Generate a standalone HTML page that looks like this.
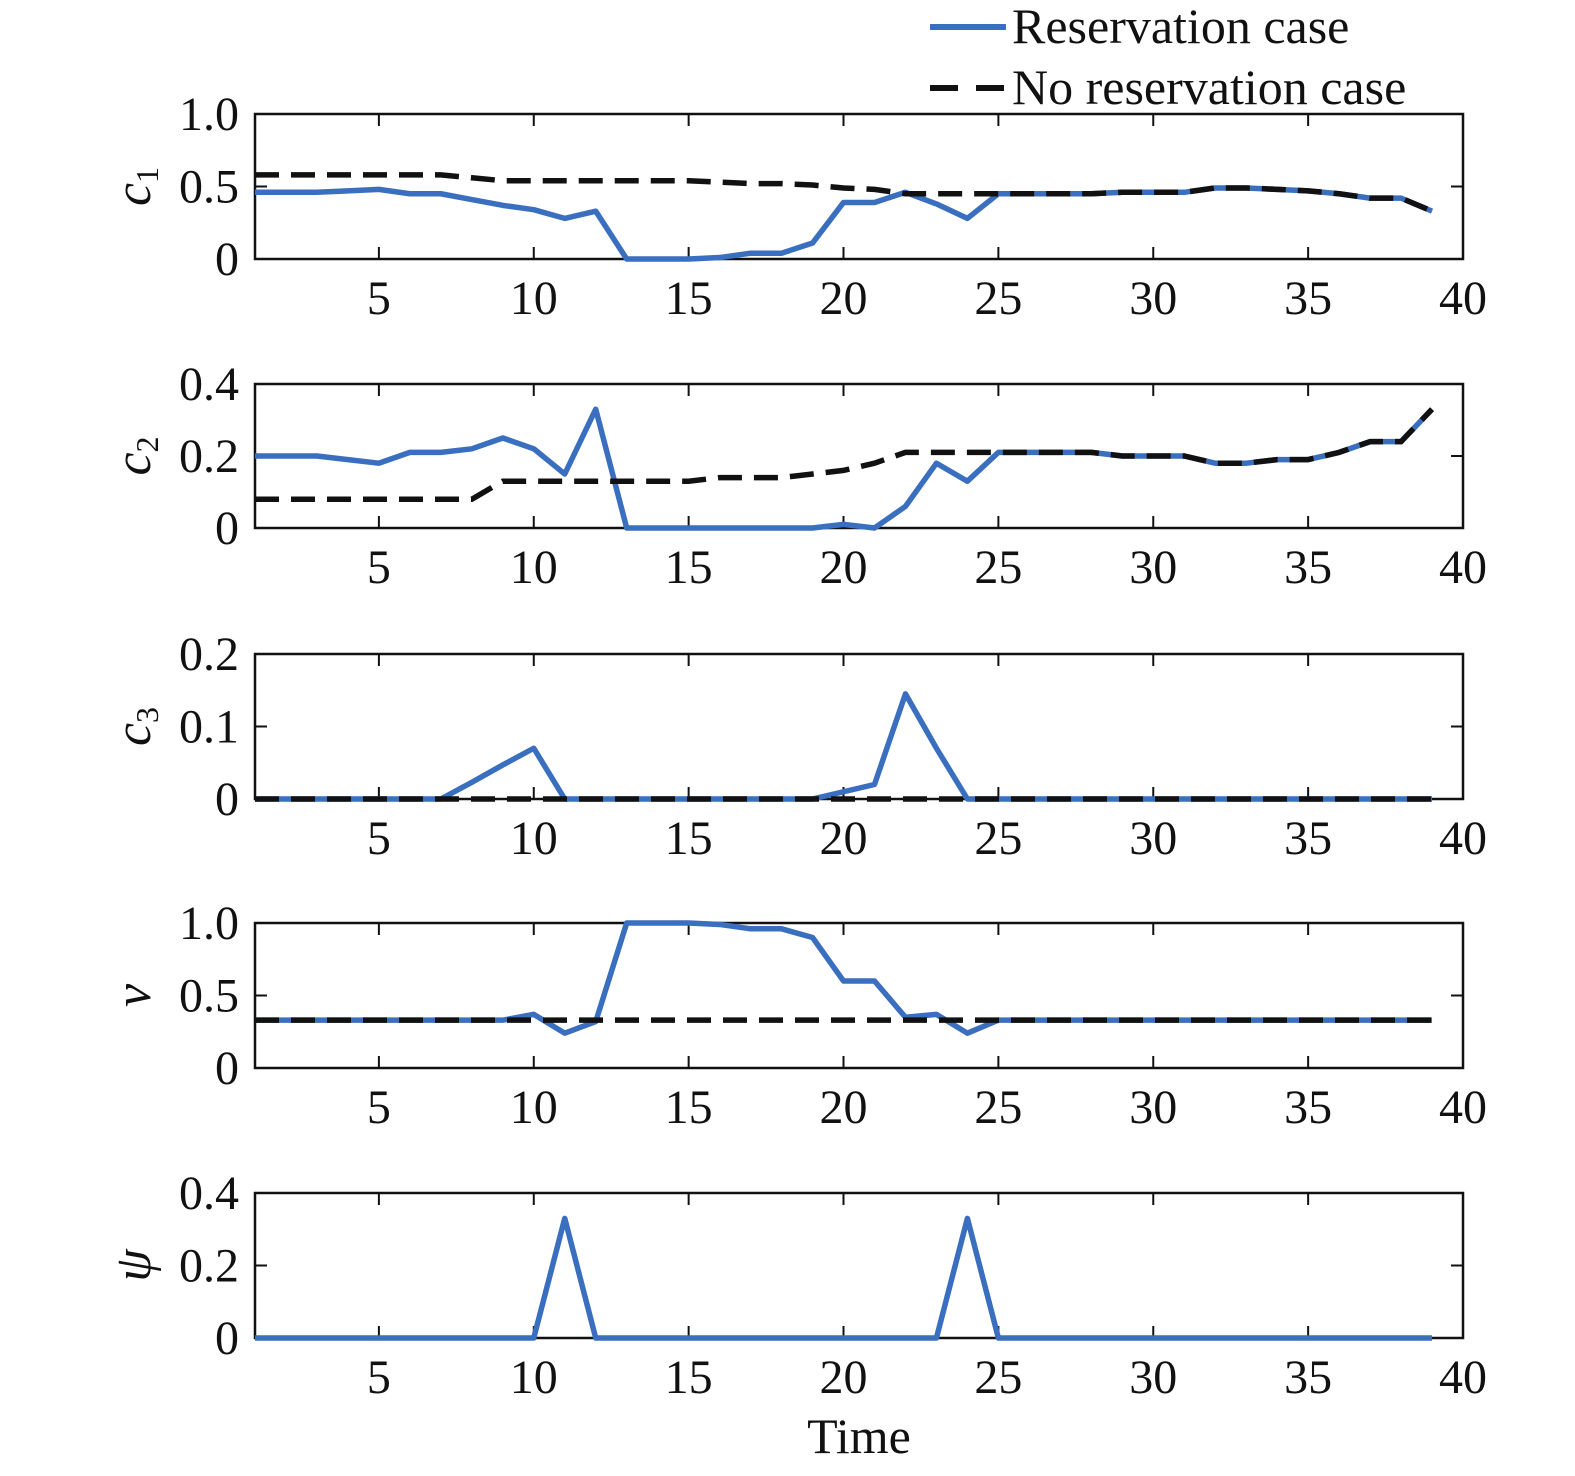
<!DOCTYPE html>
<html><head><meta charset="utf-8"><style>
body{margin:0;background:#fff}
svg{display:block}
text{font-family:"Liberation Serif",serif;fill:#111}
</style></head><body>
<svg id="chart" width="1575" height="1476" viewBox="0 0 1575 1476" xmlns="http://www.w3.org/2000/svg"></svg>
<script>
const timeSteps = Array.from({length:39},(_,i)=>i+1);
const xTicks = [5,10,15,20,25,30,35,40];
const c1Res = [0.46,0.46,0.46,0.47,0.48,0.45,0.45,0.41,0.37,0.34,0.28,0.33,0,0,0,0.01,0.04,0.04,0.11,0.39,0.39,0.46,0.38,0.28,0.45,0.45,0.45,0.45,0.46,0.46,0.46,0.49,0.49,0.48,0.47,0.45,0.42,0.42,0.33];
const c1NoRes = [0.58,0.58,0.58,0.58,0.58,0.58,0.58,0.56,0.54,0.54,0.54,0.54,0.54,0.54,0.54,0.53,0.52,0.52,0.51,0.49,0.48,0.45,0.45,0.45,0.45,0.45,0.45,0.45,0.46,0.46,0.46,0.49,0.49,0.48,0.47,0.45,0.42,0.42,0.33];
const c2Res = [0.2,0.2,0.2,0.19,0.18,0.21,0.21,0.22,0.25,0.22,0.15,0.33,0,0,0,0,0,0,0,0.01,0,0.06,0.18,0.13,0.21,0.21,0.21,0.21,0.2,0.2,0.2,0.18,0.18,0.19,0.19,0.21,0.24,0.24,0.33];
const c2NoRes = [0.08,0.08,0.08,0.08,0.08,0.08,0.08,0.08,0.13,0.13,0.13,0.13,0.13,0.13,0.13,0.14,0.14,0.14,0.15,0.16,0.18,0.21,0.21,0.21,0.21,0.21,0.21,0.21,0.2,0.2,0.2,0.18,0.18,0.19,0.19,0.21,0.24,0.24,0.33];
const c3Res = [0,0,0,0,0,0,0,0.023,0.047,0.07,0,0,0,0,0,0,0,0,0,0.01,0.02,0.145,0.07,0,0,0,0,0,0,0,0,0,0,0,0,0,0,0,0];
const c3NoRes = new Array(39).fill(0);
const vRes = [0.33,0.33,0.33,0.33,0.33,0.33,0.33,0.33,0.33,0.37,0.24,0.32,1,1,1,0.99,0.96,0.96,0.9,0.6,0.6,0.35,0.37,0.24,0.33,0.33,0.33,0.33,0.33,0.33,0.33,0.33,0.33,0.33,0.33,0.33,0.33,0.33,0.33];
const vNoRes = new Array(39).fill(0.33);
const psiRes = [0,0,0,0,0,0,0,0,0,0,0.33,0,0,0,0,0,0,0,0,0,0,0,0,0.33,0,0,0,0,0,0,0,0,0,0,0,0,0,0,0];
const yTicks1 = [0,0.5,1.0], yTickLabels1 = ["0","0.5","1.0"];
const yTicks2 = [0,0.2,0.4], yTickLabels2 = ["0","0.2","0.4"];
const yTicks3 = [0,0.1,0.2], yTickLabels3 = ["0","0.1","0.2"];

const NS="http://www.w3.org/2000/svg";
const svg=document.getElementById('chart');
function mk(tag,attrs,parent){const e=document.createElementNS(NS,tag);for(const k in attrs)e.setAttribute(k,attrs[k]);(parent||svg).appendChild(e);return e;}
const X0=255,X1=1463;
const xs=v=>X0+(v-1)/39*(X1-X0);

const panels=[
 {name:'c1',top:114,bot:259,max:1,ticks:yTicks1,labels:yTickLabels1,label:'c',sub:'1',res:c1Res,nores:c1NoRes},
 {name:'c2',top:384,bot:528,max:0.4,ticks:yTicks2,labels:yTickLabels2,label:'c',sub:'2',res:c2Res,nores:c2NoRes},
 {name:'c3',top:654,bot:799,max:0.2,ticks:yTicks3,labels:yTickLabels3,label:'c',sub:'3',res:c3Res,nores:c3NoRes},
 {name:'v',top:923,bot:1068,max:1,ticks:yTicks1,labels:yTickLabels1,label:'v',sub:'',res:vRes,nores:vNoRes},
 {name:'psi',top:1193,bot:1338,max:0.4,ticks:yTicks2,labels:yTickLabels2,label:'ψ',sub:'',res:psiRes,nores:null}
];
panels.forEach(p=>{
  const g=mk('g',{});
  
  
  const ys=v=>p.bot-v/p.max*(p.bot-p.top);
  const box=mk('rect',{x:X0,y:p.top,width:X1-X0,height:p.bot-p.top,fill:'none',stroke:'#111','stroke-width':2.5},g);
  
  
  xTicks.forEach(t=>{
    const x=xs(t);
    mk('line',{x1:x,x2:x,y1:p.bot,y2:p.bot-12,stroke:'#111','stroke-width':2},g);
    mk('line',{x1:x,x2:x,y1:p.top,y2:p.top+12,stroke:'#111','stroke-width':2},g);
    const tx=mk('text',{x:x,y:p.bot+55,'text-anchor':'middle','font-size':48},g);
    tx.textContent=t;
    
    
  });
  p.ticks.forEach((t,i)=>{
    const y=ys(t);
    mk('line',{x1:X0,x2:X0+12,y1:y,y2:y,stroke:'#111','stroke-width':2},g);
    mk('line',{x1:X1,x2:X1-12,y1:y,y2:y,stroke:'#111','stroke-width':2},g);
    const tx=mk('text',{x:239,y:y+16,'text-anchor':'end','font-size':48},g);
    tx.textContent=p.labels[i];
    
    
  });
  const cy=(p.top+p.bot)/2;
  const lab=mk('text',{x:0,y:0,'font-size':52,'font-style':'italic',transform:`translate(150,${cy}) rotate(-90)`,'text-anchor':'middle'},g);
  lab.textContent=p.label;
  if(p.sub){const s=mk('tspan',{'font-size':32,'font-style':'normal',dy:8},lab);s.textContent=p.sub;}
  
  
  const pts=a=>a.map((v,i)=>xs(timeSteps[i])+','+ys(v)).join(' ');
  const r=mk('polyline',{points:pts(p.res),fill:'none',stroke:'#3a6fc0','stroke-width':5.5,'stroke-linejoin':'round'},g);
  
  
  if(p.nores){
    const n=mk('polyline',{points:pts(p.nores),fill:'none',stroke:'#111','stroke-width':5.5,'stroke-dasharray':'24 12'},g);
    
    
  }
});
const xt=mk('text',{x:859,y:1453,'text-anchor':'middle','font-size':50});
xt.textContent='Time';


const lg=mk('g',{});


const l1=mk('line',{x1:930,x2:1006,y1:27,y2:27,stroke:'#3a6fc0','stroke-width':6},lg);


const t1=mk('text',{x:1012,y:43,'font-size':50},lg);t1.textContent='Reservation case';


const l2=mk('line',{x1:930,x2:1006,y1:88,y2:88,stroke:'#111','stroke-width':6,'stroke-dasharray':'28 18'},lg);


const t2=mk('text',{x:1012,y:104,'font-size':50},lg);t2.textContent='No reservation case';


</script>
</body></html>
